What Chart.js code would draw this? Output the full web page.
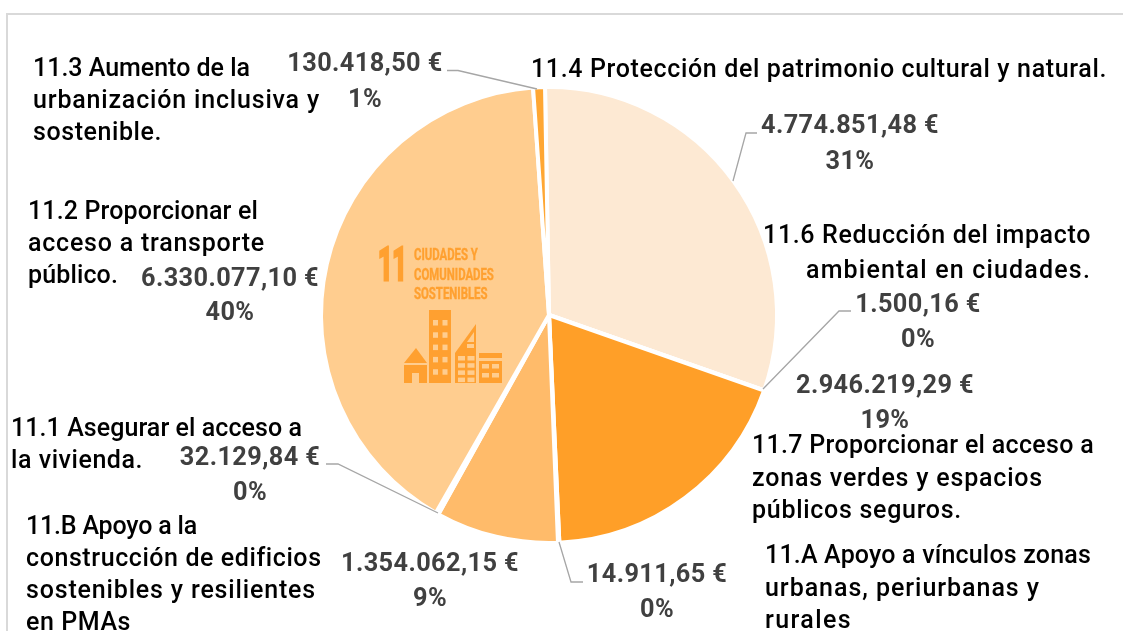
<!DOCTYPE html>
<html><head><meta charset="utf-8">
<style>
html,body{margin:0;padding:0;background:#fff;overflow:hidden}
#wrap{position:absolute;left:0;top:0;width:1123px;height:631px}
#frame{position:absolute;left:6px;top:13px;width:1200px;height:700px;border:2px solid #d9d9d9;box-sizing:border-box}
canvas{position:absolute;left:0;top:0}
</style>
<script src="https://cdn.jsdelivr.net/npm/chart.js@4"></script>
</head><body><div id="wrap"><div id="frame"></div><canvas id="c" width="1123" height="631"></canvas></div>
<script>
const categories = ["11.4","11.6","11.7","11.A","11.B","11.1","11.2","11.3"];
const amounts = [4774851.48,1500.16,2946219.29,14911.65,1354062.15,32129.84,6330077.10,130418.50];
const sliceColors = ["#FDE9D3","#FF9F28","#FF9F28","#FFBB6A","#FFBB6A","#FFCD8F","#FFCD8F","#FFA733"];
const goalLines = [
 ["11.3 Aumento de la","urbanización inclusiva y","sostenible."],
 ["11.4 Protección del patrimonio cultural y natural."],
 ["11.6 Reducción del impacto","ambiental en ciudades."],
 ["11.7 Proporcionar el acceso a","zonas verdes y espacios","públicos seguros."],
 ["11.A Apoyo a vínculos zonas","urbanas, periurbanas y","rurales"],
 ["11.B Apoyo a la","construcción de edificios","sostenibles y resilientes","en PMAs"],
 ["11.1 Asegurar el acceso a","la vivienda."],
 ["11.2 Proporcionar el","acceso a transporte","público."]
];
const goalWidths = [[217,287,129],[576],[328,285],[342,291,210],[326,275,87],[171,295,290,105],[291,132],[230,237,90]];
const goalPlace = [[33,76,32,"left"],[531,77,32,"left"],[1091,243,35,"right"],[752,453,32.5,"left"],[765,563,32.5,"left"],[26,534,32,"left"],[11,436,32,"left"],[28,219,32,"left"]];
const valueTexts = ["130.418,50 €","4.774.851,48 €","1.500,16 €","2.946.219,29 €","14.911,65 €","1.354.062,15 €","32.129,84 €","6.330.077,10 €"];
const percentTexts = ["1%","31%","0%","19%","0%","9%","0%","40%"];
const valuePlace = [[365,71,107],[850,133,169],[918,312,347],[885,393,428],[657,582,617],[430,571,606],[250,465,500],[230,286,320]];
const leaders = [
 [[447,70.5],[458,70.5],[537,89]],
 [[733,181],[746,133],[757,133]],
 [[763,389],[839,311],[851,311]],
 [[559,542],[571,582],[583,582]],
 [[326,464],[338,464],[438,513]]
];
const logoLines = ["CIUDADES Y","COMUNIDADES","SOSTENIBLES"];

function drawLogo(ctx){
  const C="#FFA030", P="#FFCD8F";
  ctx.save();
  ctx.fillStyle=C; ctx.strokeStyle=C; ctx.textAlign="left";
  ctx.save(); ctx.translate(378,280); ctx.scale(0.56,1);
  ctx.font="bold 46px 'Liberation Sans Narrow','Roboto'"; ctx.letterSpacing="-1px"; ctx.lineWidth=3; ctx.fillText("11",0,0); ctx.strokeText("11",0,0); ctx.restore();
  ctx.letterSpacing="0px";
  logoLines.forEach((t,i)=>{ctx.save();ctx.translate(414,260+i*19.5);ctx.scale(0.69,1);ctx.font="bold 16.5px 'Liberation Sans Narrow','Roboto'";ctx.lineWidth=0.4;ctx.fillText(t,0,0);ctx.strokeText(t,0,0);ctx.restore();});
  // house
  ctx.beginPath();ctx.moveTo(404,363);ctx.lineTo(416,348);ctx.lineTo(427,363);ctx.closePath();ctx.fill();
  ctx.fillRect(404,365,23,18);
  ctx.fillStyle=P;ctx.fillRect(412,373,7,10);ctx.fillStyle=C;
  // tall
  ctx.fillRect(429,310,22,73);
  ctx.fillStyle=P;
  for(let r=0;r<5;r++)for(let k=0;k<2;k++)ctx.fillRect(433+k*9.5,320+r*12.3,5,5.5);
  ctx.fillStyle=C;
  // slanted
  ctx.beginPath();ctx.moveTo(455,383);ctx.lineTo(455,353);ctx.lineTo(476,324);ctx.lineTo(476,383);ctx.closePath();ctx.fill();
  ctx.fillStyle=P;
  for(let r=0;r<4;r++)for(let k=0;k<2;k++)ctx.fillRect(458+k*9.5,356+r*7.2,7,4.5);
  ctx.beginPath();ctx.moveTo(467,342);ctx.lineTo(474,332);ctx.lineTo(474,342);ctx.closePath();ctx.fill();
  ctx.fillRect(467,344,7,4);
  ctx.fillStyle=C;
  // low
  ctx.fillRect(479,353,23,5);ctx.fillRect(479,361,23,22);
  ctx.fillStyle=P;
  for(let r=0;r<2;r++)for(let k=0;k<2;k++)ctx.fillRect(482+k*10,364+r*9,7,4.5);
  ctx.restore();
}
const overlay={id:"overlay",afterDatasetsDraw(chart){
  const ctx=chart.ctx;ctx.save();
  drawLogo(ctx);
  ctx.strokeStyle="#a6a6a6";ctx.lineWidth=1.3;
  leaders.forEach(l=>{ctx.beginPath();l.forEach((p,i)=>i?ctx.lineTo(p[0],p[1]):ctx.moveTo(p[0],p[1]));ctx.stroke();});
  ctx.textBaseline="alphabetic";
  ctx.fillStyle="#000";ctx.font="500 25px Roboto";
  goalLines.forEach((g,i)=>{const p=goalPlace[i];ctx.textAlign=p[3];g.forEach((t,j)=>{
    ctx.letterSpacing="0px";
    const sp=(goalWidths[i][j]-ctx.measureText(t).width)/t.length;
    ctx.letterSpacing=sp.toFixed(3)+"px";
    ctx.fillText(t,p[0],p[1]+j*p[2]);
  });});
  ctx.fillStyle="#404040";ctx.font="bold 25.3px Roboto";ctx.textAlign="center";ctx.letterSpacing="0.4px";
  valueTexts.forEach((t,i)=>{const p=valuePlace[i];ctx.fillText(t,p[0],p[1]);ctx.fillText(percentTexts[i],p[0],p[2]);});
  ctx.restore();
}};
new Chart(document.getElementById("c"),{
  type:"pie",
  data:{labels:categories,datasets:[{data:amounts,backgroundColor:sliceColors,borderColor:"#fff",borderWidth:4}]},
  options:{responsive:false,animation:false,rotation:-1,
    layout:{padding:{left:319,right:344,top:85,bottom:86}},
    plugins:{legend:{display:false},tooltip:{enabled:false}}},
  plugins:[overlay]
});
</script></body></html>
